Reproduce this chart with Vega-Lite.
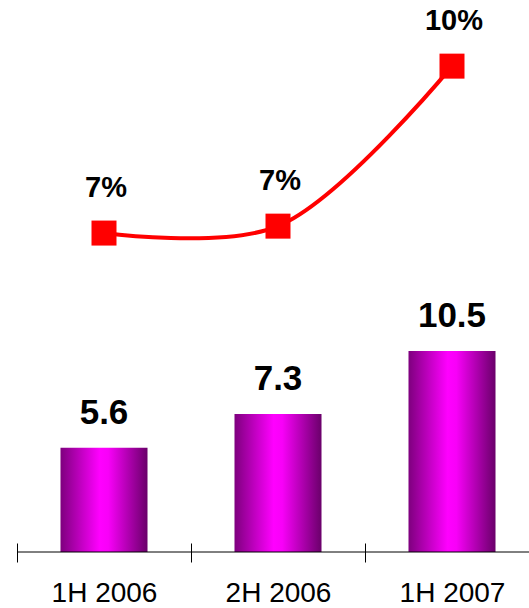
{
  "$schema": "https://vega.github.io/schema/vega-lite/v6.json",
  "width": 512,
  "height": 552,
  "autosize": "none",
  "padding": {"left": 17, "top": 0, "right": 0, "bottom": 56},
  "config": {"view": {"stroke": null}, "font": "Liberation Sans"},
  "data": {
    "values": [
      {"period": "1H 2006", "revenue": 5.6, "growth": 0.0687},
      {"period": "2H 2006", "revenue": 7.3, "growth": 0.07},
      {"period": "1H 2007", "revenue": 10.5, "growth": 0.1}
    ]
  },
  "layer": [
    {
      "mark": {
        "type": "bar",
        "width": {"band": 0.5},
        "clip": true,
        "color": {
          "gradient": "linear",
          "x1": 0, "x2": 1, "y1": 0, "y2": 0,
          "stops": [
            {"offset": 0, "color": "#7E007E"},
            {"offset": 0.45, "color": "#FF00FF"},
            {"offset": 0.55, "color": "#F800F8"},
            {"offset": 1, "color": "#6A006A"}
          ]
        }
      },
      "encoding": {
        "x": {
          "field": "period", "type": "nominal", "sort": null,
          "scale": {"range": [0, 522], "paddingInner": 0, "paddingOuter": 0},
          "axis": {
            "title": null, "labelAngle": 0, "labelFontSize": 28, "labelColor": "#000000",
            "labelFont": "Liberation Sans", "tickBand": "extent", "tickSize": 19,
            "tickColor": "#000000", "tickWidth": 1, "offset": -9, "domain": false,
            "labelPadding": 17, "grid": false
          }
        },
        "y": {
          "field": "revenue", "type": "quantitative",
          "scale": {"domain": [0.31, 28.29], "zero": false, "nice": false},
          "axis": null
        }
      }
    },
    {
      "mark": {"type": "text", "fontSize": 35, "fontWeight": "bold", "dy": -24, "baseline": "alphabetic", "align": "center", "color": "#000000"},
      "encoding": {
        "x": {"field": "period", "type": "nominal", "sort": null},
        "y": {
          "field": "revenue", "type": "quantitative",
          "scale": {"domain": [0.31, 28.29], "zero": false, "nice": false},
          "axis": null
        },
        "text": {"field": "revenue", "type": "quantitative", "format": ".1f"}
      }
    },
    {
      "data": {"values": [{"base": 0.31}]},
      "mark": {"type": "rule", "color": "#000000", "strokeWidth": 1},
      "encoding": {
        "y": {
          "field": "base", "type": "quantitative",
          "scale": {"domain": [0.31, 28.29], "zero": false, "nice": false},
          "axis": null
        }
      }
    },
    {
      "mark": {"type": "line", "interpolate": "catmull-rom", "color": "#FF0000", "strokeWidth": 4},
      "encoding": {
        "x": {"field": "period", "type": "nominal", "sort": null},
        "y": {
          "field": "growth", "type": "quantitative",
          "scale": {"domain": [0.0089, 0.1124], "zero": false, "nice": false},
          "axis": null
        }
      }
    },
    {
      "mark": {"type": "square", "size": 625, "color": "#FF0000", "filled": true, "opacity": 1},
      "encoding": {
        "x": {"field": "period", "type": "nominal", "sort": null},
        "y": {
          "field": "growth", "type": "quantitative",
          "scale": {"domain": [0.0089, 0.1124], "zero": false, "nice": false},
          "axis": null
        }
      }
    },
    {
      "mark": {"type": "text", "fontSize": 29, "fontWeight": "bold", "dy": -36, "dx": 2, "baseline": "alphabetic", "align": "center", "color": "#000000"},
      "encoding": {
        "x": {"field": "period", "type": "nominal", "sort": null},
        "y": {
          "field": "growth", "type": "quantitative",
          "scale": {"domain": [0.0089, 0.1124], "zero": false, "nice": false},
          "axis": null
        },
        "text": {"field": "growth", "type": "quantitative", "format": ".0%"}
      }
    }
  ],
  "resolve": {"scale": {"y": "independent"}}
}
